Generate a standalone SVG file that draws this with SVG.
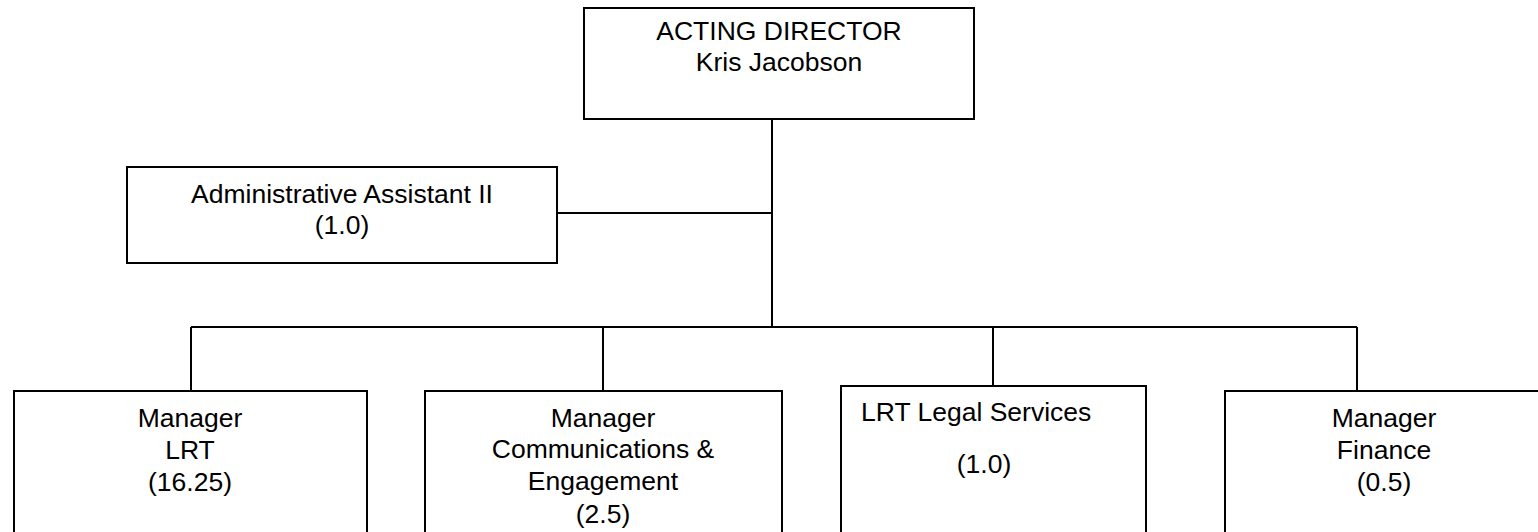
<svg xmlns="http://www.w3.org/2000/svg" width="1538" height="532" viewBox="0 0 1538 532">
<style>
.box{fill:#fff;stroke:#000;stroke-width:2}
.t{font-family:"Liberation Sans",Arial,sans-serif;font-size:26.5px;fill:#000;text-anchor:middle}
.tl{font-family:"Liberation Sans",Arial,sans-serif;font-size:26.5px;fill:#000}
.c{fill:none;stroke:#000;stroke-width:2}
</style>
<rect width="1538" height="532" fill="#fff"/>
<g id="connectors">
<path class="c" d="M772 119V327"/>
<path class="c" d="M557 213H772"/>
<path class="c" d="M191 327H1357"/>
<path class="c" d="M191 327V391"/>
<path class="c" d="M603 327V391"/>
<path class="c" d="M993 327V386"/>
<path class="c" d="M1357 327V391"/>
</g>
<g id="director">
<rect class="box" x="584" y="8" width="390" height="111"/>
<text class="t" x="779" y="40">ACTING DIRECTOR</text>
<text class="t" x="779" y="71">Kris Jacobson</text>
</g>
<g id="admin">
<rect class="box" x="127" y="167" width="430" height="96"/>
<text class="t" x="342" y="203">Administrative Assistant II</text>
<text class="t" x="342" y="234">(1.0)</text>
</g>
<g id="mgr-lrt">
<rect class="box" x="14" y="391" width="353" height="160"/>
<text class="t" x="190" y="427">Manager</text>
<text class="t" x="190" y="459">LRT</text>
<text class="t" x="190" y="491">(16.25)</text>
</g>
<g id="mgr-comm">
<rect class="box" x="425" y="391" width="357" height="160"/>
<text class="t" x="603" y="427">Manager</text>
<text class="t" x="603" y="458">Communications &amp;</text>
<text class="t" x="603" y="490">Engagement</text>
<text class="t" x="603" y="523">(2.5)</text>
</g>
<g id="legal">
<rect class="box" x="841" y="386" width="305" height="165"/>
<text class="tl" x="861" y="421">LRT Legal Services</text>
<text class="t" x="984" y="473">(1.0)</text>
</g>
<g id="mgr-fin">
<rect class="box" x="1225" y="391" width="330" height="160"/>
<text class="t" x="1384" y="427">Manager</text>
<text class="t" x="1384" y="459">Finance</text>
<text class="t" x="1384" y="491">(0.5)</text>
</g>
</svg>
